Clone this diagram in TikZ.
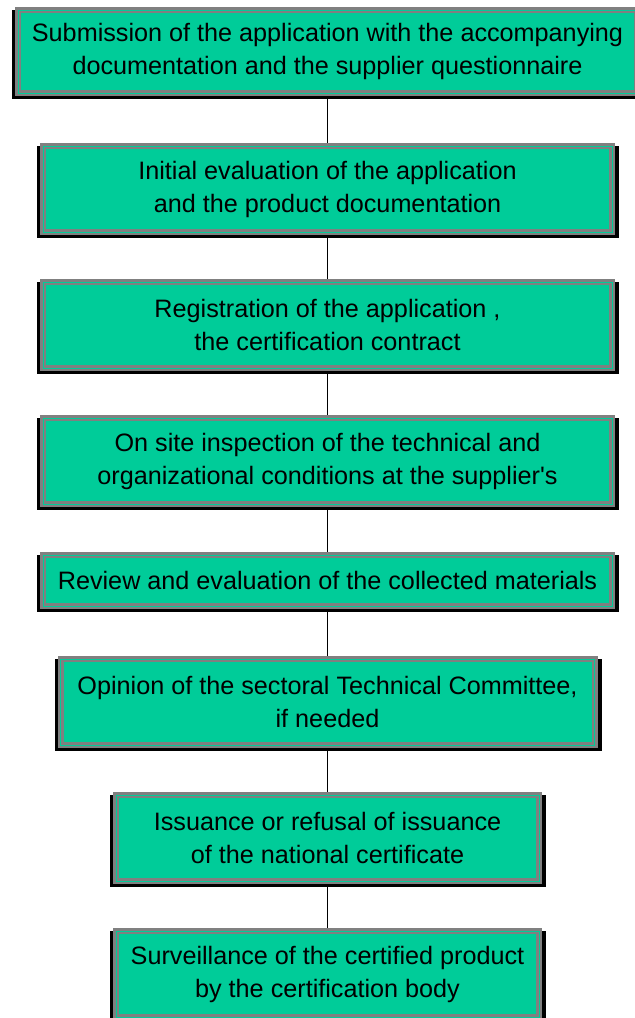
\documentclass[tikz,border=0pt]{standalone}
\usepackage{fontspec}
\newfontfamily\boxfont{Liberation Sans}[Ligatures=TeXOff]
\usetikzlibrary{backgrounds}

\definecolor{boxgreen}{RGB}{0,204,153}
\definecolor{boxgrey}{RGB}{128,128,128}

\begin{document}
\begin{tikzpicture}[x=0.5pt, y=-0.5pt]
\useasboundingbox (0,0) rectangle (634,1018);

\begin{scope}[every node/.style={rectangle, fill=boxgreen, draw=boxgrey, double=boxgreen,
        double distance=0.5pt, line width=1.25pt, outer sep=0pt, inner sep=0pt,
        align=center, font=\boxfont\fontsize{12.6pt}{16.5pt}\selectfont}]
    \node (submission) at (327.5, 51.5) [minimum width=309.5pt, minimum height=41.5pt]
        {Submission of the application with the accompanying\\documentation and the supplier questionnaire};

    \node (evaluation) at (327.5, 189) [minimum width=284.5pt, minimum height=43pt]
        {Initial evaluation of the application\\and the product documentation};

    \node (registration) at (327.5, 325) [minimum width=284.5pt, minimum height=43pt]
        {Registration of the application ,\\the certification contract};

    \node (inspection) at (327.5, 461) [minimum width=284.5pt, minimum height=43pt]
        {On site inspection of the technical and\\organizational conditions at the supplier's};

    \node (review) at (327.5, 580.5) [minimum width=284.5pt, minimum height=25.5pt]
        {Review and evaluation of the collected materials};

    \node (opinion) at (327.5, 702) [minimum width=267pt, minimum height=43pt]
        {Opinion of the sectoral Technical Committee,\\if needed};

    \node (issuance) at (327.5, 838) [minimum width=211.5pt, minimum height=43pt]
        {Issuance or refusal of issuance\\of the national certificate};

    \node (surveillance) at (327.5, 974) [minimum width=211.5pt, minimum height=43pt]
        {Surveillance of the certified product\\by the certification body};
\end{scope}

\begin{scope}[on background layer, every edge/.style={draw=black, line width=0.75pt}]
    % shadows
    \foreach \stage in {submission, evaluation, registration, inspection, review, opinion, issuance, surveillance}
        \fill [black] ([xshift=-3pt]\stage.north west) rectangle ([xshift=3.5pt, yshift=-3pt]\stage.south east);

    \path (submission) edge (evaluation);
    \path (evaluation) edge (registration);
    \path (registration) edge (inspection);
    \path (inspection) edge (review);
    \path (review) edge (opinion);
    \path (opinion) edge (issuance);
    \path (issuance) edge (surveillance);
\end{scope}
\end{tikzpicture}
\end{document}
